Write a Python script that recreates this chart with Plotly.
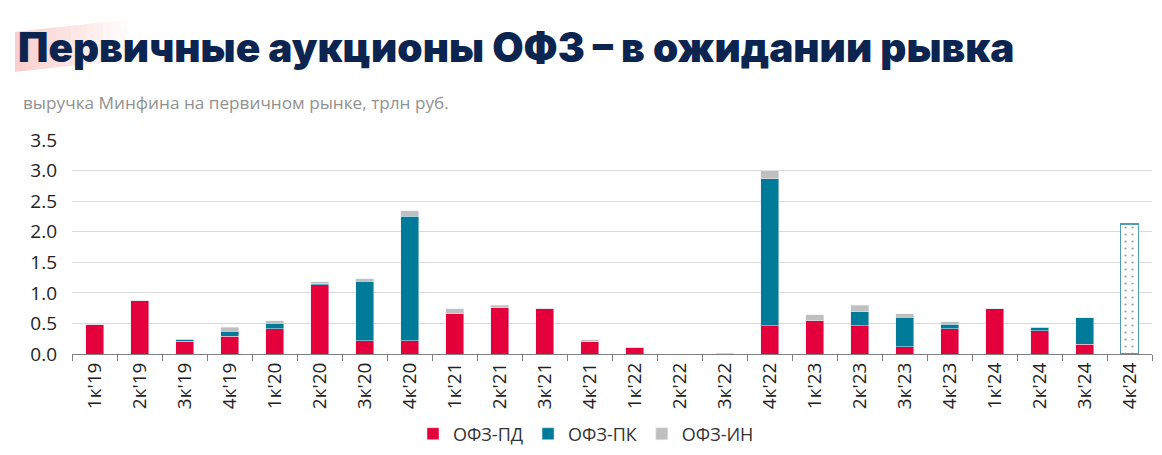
import plotly.graph_objects as go

quarters = ["1к'19", "2к'19", "3к'19", "4к'19", "1к'20", "2к'20", "3к'20", "4к'20",
            "1к'21", "2к'21", "3к'21", "4к'21", "1к'22", "2к'22", "3к'22", "4к'22",
            "1к'23", "2к'23", "3к'23", "4к'23", "1к'24", "2к'24", "3к'24", "4к'24"]
ofz_pd = [0.49, 0.88, 0.21, 0.29, 0.41, 1.13, 0.22, 0.22,
          0.66, 0.76, 0.75, 0.21, 0.10, 0.0, 0.0, 0.46,
          0.54, 0.46, 0.12, 0.41, 0.74, 0.38, 0.16, None]
ofz_pk = [0.0, 0.0, 0.03, 0.08, 0.09, 0.02, 0.97, 2.03,
          0.0, 0.0, 0.0, 0.0, 0.0, 0.0, 0.0, 2.41,
          0.0, 0.23, 0.48, 0.08, 0.0, 0.06, 0.43, None]
ofz_in = [0.0, 0.0, 0.0, 0.07, 0.04, 0.03, 0.04, 0.09,
          0.08, 0.04, 0.0, 0.02, 0.01, 0.0, 0.01, 0.13,
          0.10, 0.11, 0.06, 0.04, 0.0, 0.0, 0.0, None]
forecast = [None] * 23 + [2.13]

RED = "#E4003A"
TEAL = "#007A99"
GREY = "#BFBFBF"
NAVY = "#0B2550"
FONT = "Open Sans"

# страница добавляет отступ 8px, поэтому фигура чуть меньше окна
OFF = 8
W, H = 1162 - 2 * OFF, 455 - 2 * OFF
# область графика (в пикселях окна): x 72..1152, y 140..354
L, R = 72 - OFF, W - (1152 - OFF)
T, B = 140 - OFF, H - (354 - OFF)
PW, PH = W - L - R, H - T - B


def px(x):
    # координата окна -> paper
    return (x - OFF - L) / PW


def py(y):
    return (H - B - (y - OFF)) / PH


fig = go.Figure()
fig.add_trace(go.Bar(x=quarters, y=ofz_pd, name="ОФЗ-ПД", marker_color=RED, width=0.4))
fig.add_trace(go.Bar(x=quarters, y=ofz_pk, name="ОФЗ-ПК", marker_color=TEAL, width=0.4))
fig.add_trace(go.Bar(x=quarters, y=ofz_in, name="ОФЗ-ИН", marker_color=GREY, width=0.4))
fig.add_trace(go.Bar(x=quarters, y=forecast, showlegend=False, width=0.4,
                     marker=dict(color="white", line=dict(color="#4E9DB3", width=1.5),
                                 pattern=dict(shape=".", fgcolor="#333333", bgcolor="white",
                                              size=7, solidity=0.08))))

# розовая подложка за заголовком, затухает вправо
n = 14
for i in range(n):
    x0 = 15 + i * 8
    x1 = x0 + 8
    op = 0.42 * (1 - i / n)
    fig.add_shape(type="path", xref="paper", yref="paper",
                  path="M {:.4f},{:.4f} L {:.4f},{:.4f} L {:.4f},{:.4f} L {:.4f},{:.4f} Z".format(
                      px(x0), py(72 - (x0 - 15) * 0.11),
                      px(x1), py(72 - (x1 - 15) * 0.11),
                      px(x1), py(32 - (x1 - 15) * 0.11),
                      px(x0), py(32 - (x0 - 15) * 0.11)),
                  fillcolor="rgba(240,140,135,{:.3f})".format(op), line_width=0, layer="below")

fig.add_annotation(x=px(16), y=py(48), xref="paper", yref="paper",
                   xanchor="left", yanchor="middle", showarrow=False,
                   text="Первичные аукционы ОФЗ – в ожидании рывка",
                   font=dict(family="Inter", size=40.5, color=NAVY, weight=900))
fig.add_annotation(x=px(21), y=py(103), xref="paper", yref="paper",
                   xanchor="left", yanchor="middle", showarrow=False,
                   text="выручка Минфина на первичном рынке, трлн руб.",
                   font=dict(family=FONT, size=17.2, color="#919191"))

fig.update_layout(
    barmode="stack",
    width=W, height=H,
    margin=dict(l=L, r=R, t=T, b=B, autoexpand=False),
    plot_bgcolor="white", paper_bgcolor="white",
    font=dict(family=FONT, color="#222222"),
    legend=dict(orientation="h", x=px(586), xanchor="center", y=py(434), yanchor="middle",
                font=dict(size=18, color="#333333"), itemwidth=30, traceorder="normal"),
    xaxis=dict(type="category", tickangle=-90, tickfont=dict(size=19), automargin=False,
               ticks="outside", tickson="boundaries", ticklen=6, tickcolor="#7F7F7F",
               showline=True, linecolor="#7F7F7F", linewidth=1, showgrid=False),
    yaxis=dict(range=[0, 3.5], dtick=0.5, tickformat=".1f", tickfont=dict(size=19),
               showgrid=True, gridcolor="#D9D9D9", gridwidth=1, zeroline=False,
               automargin=False, ticklabelstandoff=14),
)

fig.write_html("out.html")
